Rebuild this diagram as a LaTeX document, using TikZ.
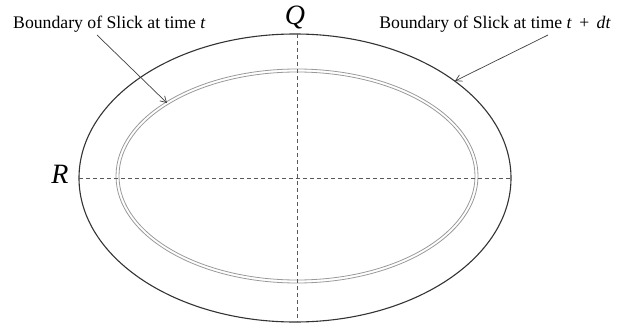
\documentclass[tikz,border=0pt]{standalone}
\usepackage{fontspec}
\setmainfont{Liberation Serif}
\usetikzlibrary{arrows.meta}
\begin{document}
\begin{tikzpicture}[x=1pt,y=-1pt,
  outerline/.style={draw=black!80,line width=1.1pt},
  innerline/.style={draw=black!40,line width=0.8pt},
  dashline/.style={draw=black!65,line width=0.8pt,dash pattern=on 4pt off 3pt},
  lbl/.style={inner sep=0pt,font=\fontsize{17.7}{20}\selectfont},
  axislbl/.style={inner sep=0pt,font=\fontsize{28}{30}\selectfont\itshape},
  pointer/.style={draw=black!75,line width=0.7pt,-{Straight Barb[length=6pt,width=7pt]}}]
\useasboundingbox (0,0) rectangle (622,324);
\draw[outerline] (295,178) ellipse [x radius=216, y radius=144];
\draw[innerline] (297,176) ellipse [x radius=181, y radius=107];
\draw[innerline] (297,176) ellipse [x radius=178, y radius=104];
\draw[dashline] (297,34) -- (297,322);
\draw[dashline] (79,178) -- (511,178);
\node[lbl,anchor=base west] (lblL) at (13,28) {Boundary of Slick at time \textit{t}};
\node[lbl,anchor=base east] (lblR) at (611,28) {Boundary of Slick at time \textit{t}\, + \,\textit{dt}};
\node[axislbl,anchor=base] (Q) at (295,24) {Q};
\node[axislbl,anchor=base] (R) at (60,183) {R};
\coordinate (startL) at (97,35);
\coordinate (tipL) at (167,103);
\coordinate (startR) at (548,35);
\coordinate (tipR) at (455,81);
\draw[pointer] (startL) -- (tipL);
\draw[pointer] (startR) -- (tipR);
\end{tikzpicture}
\end{document}
